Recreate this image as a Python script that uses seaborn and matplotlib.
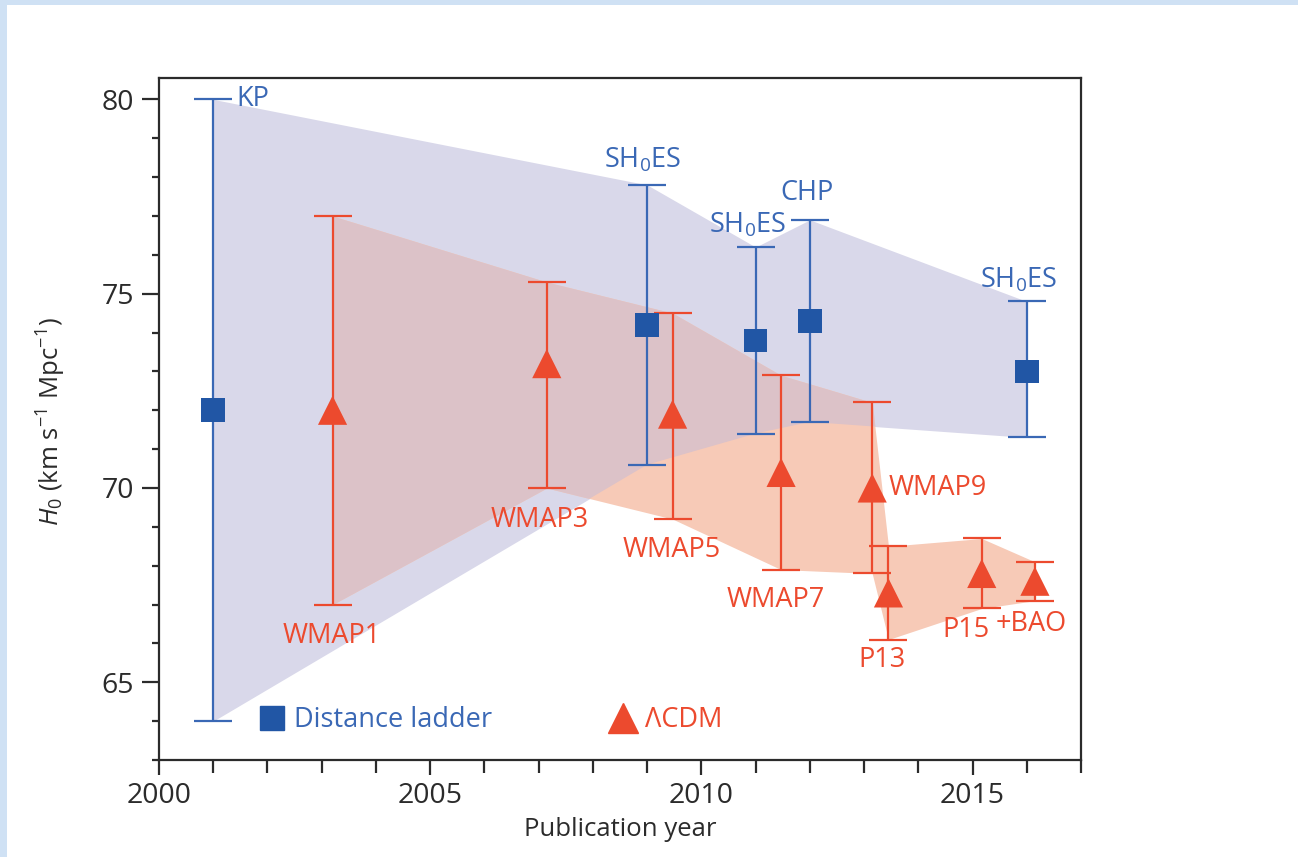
import numpy as np
import pandas as pd
import matplotlib
matplotlib.use("Agg")
import matplotlib.pyplot as plt
import seaborn as sns
from matplotlib.lines import Line2D
from matplotlib.patches import Rectangle
from matplotlib.ticker import MultipleLocator

# ---------------- data ----------------
ladder_names = ["KP", "SH$_\\mathregular{0}$ES", "SH$_\\mathregular{0}$ES", "CHP", "SH$_\\mathregular{0}$ES"]
ladder_year = [2001.0, 2009.0, 2011.0, 2012.0, 2016.0]
ladder_h0 = [72.0, 74.2, 73.8, 74.3, 73.0]
ladder_lo = [64.0, 70.6, 71.4, 71.7, 71.3]
ladder_hi = [80.0, 77.8, 76.2, 76.9, 74.8]

lcdm_names = ["WMAP1", "WMAP3", "WMAP5", "WMAP7", "WMAP9", "P13", "P15", "+BAO"]
lcdm_year = [2003.2, 2007.15, 2009.47, 2011.47, 2013.15, 2013.45, 2015.17, 2016.15]
lcdm_h0 = [72.0, 73.2, 71.9, 70.4, 70.0, 67.3, 67.8, 67.6]
lcdm_lo = [67.0, 70.0, 69.2, 67.9, 67.8, 66.1, 66.9, 67.1]
lcdm_hi = [77.0, 75.3, 74.5, 72.9, 72.2, 68.5, 68.7, 68.1]

# ---------------- style ----------------
sns.set_theme(style="ticks")
plt.rcParams["font.family"] = ["Open Sans", "DejaVu Sans"]
plt.rcParams["mathtext.fontset"] = "custom"
plt.rcParams["mathtext.rm"] = "Open Sans"
plt.rcParams["mathtext.it"] = "Open Sans:italic"

blue_mk = "#2156a5"
blue_ln = "#3a68b5"
red = "#ec4a2e"
band_blue = "#d9d8ea"
band_salmon = "#f7cab7"
band_mauve = "#dcc2c8"
dark = "#2b2b2b"

fig = plt.figure(figsize=(12.98, 8.57), dpi=100)
fig.patch.set_facecolor("#cfe1f4")
fig.add_artist(Rectangle((7 / 1298, 0), 1, 1 - 5 / 857, transform=fig.transFigure,
                         facecolor="white", edgecolor="none", zorder=0))
ax = fig.add_axes([159 / 1298, 1 - 760 / 857, (1081 - 159) / 1298, (760 - 78) / 857])
ax.set_zorder(1)

# bands
bp = ax.fill_between(ladder_year, ladder_lo, ladder_hi, color=band_blue, lw=0, zorder=1)
ax.fill_between(lcdm_year, lcdm_lo, lcdm_hi, color=band_salmon, lw=0, zorder=1.1)
mv = ax.fill_between(lcdm_year, lcdm_lo, lcdm_hi, color=band_mauve, lw=0, zorder=1.2)
mv.set_clip_path(bp.get_paths()[0], ax.transData)

# error bars
ly = np.array(ladder_h0)
ax.errorbar(ladder_year, ladder_h0,
            yerr=[ly - np.array(ladder_lo), np.array(ladder_hi) - ly],
            fmt="none", ecolor=blue_ln, elinewidth=1.6, capsize=14, capthick=1.6, zorder=3)
cy = np.array(lcdm_h0)
ax.errorbar(lcdm_year, lcdm_h0,
            yerr=[cy - np.array(lcdm_lo), np.array(lcdm_hi) - cy],
            fmt="none", ecolor=red, elinewidth=1.6, capsize=14, capthick=1.6, zorder=3)

df_l = pd.DataFrame({"year": ladder_year, "h0": ladder_h0})
df_c = pd.DataFrame({"year": lcdm_year, "h0": lcdm_h0})
sns.scatterplot(data=df_l, x="year", y="h0", marker="s", s=17 ** 2, color=blue_mk,
                edgecolor="none", ax=ax, zorder=4)
sns.scatterplot(data=df_c, x="year", y="h0", marker="^", s=21 ** 2, color=red,
                edgecolor="none", ax=ax, zorder=4)

# labels
fs = 19.5
lab_l = [(2001.42, 80.0, "left"), (2008.91, 78.43, "center"), (2010.85, 76.76, "center"),
         (2011.95, 77.6, "center"), (2015.86, 75.34, "center")]
for name, (x, y, ha) in zip(ladder_names, lab_l):
    ax.text(x, y, name, color=blue_ln, fontsize=fs, ha=ha, va="center", zorder=5)
lab_c = [(2003.19, 66.18, "center"), (2007.02, 69.17, "center"), (2009.45, 68.4, "center"),
         (2011.38, 67.11, "center"), (2013.46, 70.0, "left"), (2013.33, 65.57, "center"),
         (2014.88, 66.34, "center"), (2016.08, 66.5, "center")]
for name, (x, y, ha) in zip(lcdm_names, lab_c):
    ax.text(x, y, name, color=red, fontsize=fs, ha=ha, va="center", zorder=5)

# legend
handles = [Line2D([], [], marker="s", ls="none", color=blue_mk, markersize=17),
           Line2D([], [], marker="^", ls="none", color=red, markersize=21)]
ax.legend(handles, ["Distance ladder", "\u039bCDM"], loc="center left",
          bbox_to_anchor=(0.1079, 0.0581), ncol=2, frameon=False, fontsize=fs,
          borderpad=0, borderaxespad=0,
          handlelength=1.0, handletextpad=0.3, columnspacing=4.35,
          labelcolor=[blue_ln, red])

# axes
ax.set_xlim(2000, 2017)
ax.set_ylim(63, 80.55)
ax.xaxis.set_major_locator(MultipleLocator(5))
ax.xaxis.set_minor_locator(MultipleLocator(1))
ax.yaxis.set_major_locator(MultipleLocator(5))
ax.yaxis.set_minor_locator(MultipleLocator(1))
ax.tick_params(axis="both", which="both", direction="out", color=dark, width=1.6,
               labelsize=20.5, labelcolor=dark)
ax.tick_params(axis="y", which="major", length=12, pad=6)
ax.tick_params(axis="y", which="minor", length=5)
ax.tick_params(axis="x", which="major", length=11, pad=5)
ax.tick_params(axis="x", which="minor", length=9)
for s in ax.spines.values():
    s.set_color(dark)
    s.set_linewidth(1.6)
ax.set_xlabel("Publication year", fontsize=18.5, color=dark, labelpad=5)
ax.set_ylabel("$H_\\mathregular{0}$ (km s$^{\\mathregular{-1}}$ Mpc$^{\\mathregular{-1}}$)",
              fontsize=18.5, color=dark)
ax.yaxis.set_label_coords(-0.0987, 0.4956)

fig.savefig("out.png", dpi=100, facecolor=fig.get_facecolor())
